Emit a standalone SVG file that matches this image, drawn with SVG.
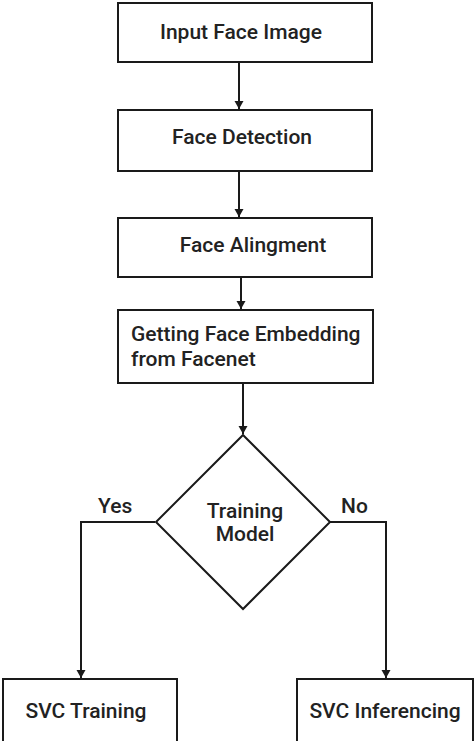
<svg xmlns="http://www.w3.org/2000/svg" width="474" height="741" viewBox="0 0 474 741">
<style>
.box{fill:#fff;stroke:#1a1a1a;stroke-width:2}
.ln{fill:none;stroke:#1a1a1a;stroke-width:2}
text{font-family:Roboto,"Liberation Sans",sans-serif;font-size:21px;font-weight:500;fill:#222}
</style>
<defs>
<marker id="ah" markerWidth="10" markerHeight="10" refX="8" refY="4.5" orient="auto" markerUnits="userSpaceOnUse">
<path d="M0,0 L8,4.5 L0,9 Z" fill="#1a1a1a"/>
</marker>
</defs>
<rect width="474" height="741" fill="#fff"/>
<g id="connectors">
<line class="ln" x1="239" y1="62" x2="239" y2="109" marker-end="url(#ah)"/>
<line class="ln" x1="239" y1="171" x2="239" y2="217" marker-end="url(#ah)"/>
<line class="ln" x1="241" y1="277" x2="241" y2="309" marker-end="url(#ah)"/>
<line class="ln" x1="243" y1="383" x2="243" y2="434" marker-end="url(#ah)"/>
<polyline class="ln" points="155,522 81,522 81,678" marker-end="url(#ah)"/>
<polyline class="ln" points="329,522 386,522 386,678" marker-end="url(#ah)"/>
<text x="98" y="513">Yes</text>
<text x="341" y="513">No</text>
</g>
<g id="n1"><rect class="box" x="118" y="3" width="254" height="59"/><text x="241" y="39" text-anchor="middle">Input Face Image</text></g>
<g id="n2"><rect class="box" x="118" y="110" width="254" height="61"/><text x="242" y="144" text-anchor="middle">Face Detection</text></g>
<g id="n3"><rect class="box" x="118" y="218" width="254" height="59"/><text x="253" y="252" text-anchor="middle">Face Alingment</text></g>
<g id="n4"><rect class="box" x="118" y="310" width="255" height="73"/><text x="131" y="341">Getting Face Embedding</text><text x="131" y="366">from Facenet</text></g>
<g id="n5"><polygon class="box" points="243,435 330,522 243,609 156,522"/><text x="245" y="518" text-anchor="middle">Training</text><text x="245" y="541" text-anchor="middle">Model</text></g>
<g id="n6"><rect class="box" x="3" y="679" width="174" height="70"/><text x="86" y="718" text-anchor="middle">SVC Training</text></g>
<g id="n7"><rect class="box" x="297" y="679" width="176" height="70"/><text x="385" y="718" text-anchor="middle">SVC Inferencing</text></g>
</svg>
